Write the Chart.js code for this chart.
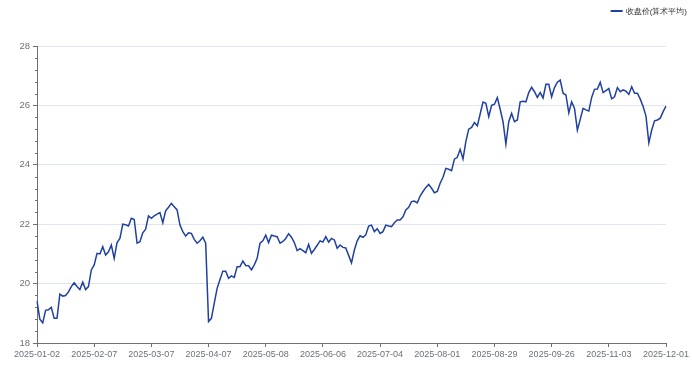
<!DOCTYPE html>
<html>
<head>
<meta charset="utf-8">
<script src="https://cdn.jsdelivr.net/npm/chart.js@4.4.1/dist/chart.umd.min.js"></script>
<style>
  html, body { margin: 0; padding: 0; background: #fff; }
  #wrap { width: 692px; height: 371px; }
</style>
</head>
<body>
<div id="wrap"><canvas id="chart"></canvas></div>
<script>
// trading days 2025-01-02 .. 2025-12-01 (weekdays minus exchange holidays)
const startDate = '2025-01-02';
const endDate = '2025-12-01';
const holidays = [
  '2025-01-01', '2025-01-28', '2025-01-29', '2025-01-30', '2025-01-31', '2025-02-03', '2025-02-04',
  '2025-04-04', '2025-05-01', '2025-05-02', '2025-05-05', '2025-06-02',
  '2025-10-01', '2025-10-02', '2025-10-03', '2025-10-06', '2025-10-07', '2025-10-08'
];

const seriesName = '收盘价(算术平均)';
const closeAvg = [
  19.41, 18.80, 18.68, 19.10, 19.12, 19.20, 18.83, 18.83, 19.65, 19.58,
  19.60, 19.72, 19.90, 20.03, 19.90, 19.80, 20.05, 19.80, 19.90, 20.46,
  20.63, 21.02, 21.00, 21.24, 20.96, 21.07, 21.30, 20.85, 21.38, 21.52,
  22.00, 21.98, 21.94, 22.20, 22.16, 21.36, 21.41, 21.71, 21.83, 22.28,
  22.20, 22.28, 22.34, 22.39, 22.05, 22.45, 22.57, 22.70, 22.59, 22.48,
  21.97, 21.75, 21.60, 21.71, 21.69, 21.49, 21.36, 21.44, 21.56, 21.36,
  18.72, 18.83, 19.34, 19.84, 20.14, 20.42, 20.42, 20.18, 20.26, 20.21,
  20.57, 20.57, 20.76, 20.61, 20.60, 20.46, 20.63, 20.85, 21.36, 21.44,
  21.63, 21.38, 21.63, 21.60, 21.58, 21.36, 21.42, 21.52, 21.68, 21.56,
  21.38, 21.11, 21.18, 21.11, 21.04, 21.32, 21.02, 21.15, 21.29, 21.44,
  21.40, 21.58, 21.40, 21.52, 21.47, 21.19, 21.30, 21.22, 21.20, 20.95,
  20.70, 21.13, 21.44, 21.61, 21.56, 21.64, 21.94, 21.97, 21.75, 21.85,
  21.69, 21.75, 21.97, 21.94, 21.92, 22.05, 22.14, 22.14, 22.25, 22.48,
  22.57, 22.76, 22.78, 22.72, 22.95, 23.10, 23.24, 23.34, 23.21, 23.06,
  23.10, 23.38, 23.58, 23.88, 23.85, 23.80, 24.19, 24.25, 24.52, 24.20,
  24.78, 25.20, 25.26, 25.42, 25.31, 25.71, 26.11, 26.07, 25.62, 26.00,
  26.04, 26.26, 25.87, 25.45, 24.70, 25.45, 25.73, 25.45, 25.51, 26.12,
  26.14, 26.12, 26.43, 26.61, 26.46, 26.27, 26.43, 26.25, 26.71, 26.71,
  26.29, 26.60, 26.78, 26.85, 26.41, 26.35, 25.75, 26.12, 25.90, 25.17,
  25.53, 25.90, 25.85, 25.81, 26.27, 26.54, 26.55, 26.78, 26.43, 26.50,
  26.57, 26.22, 26.29, 26.60, 26.46, 26.52, 26.48, 26.37, 26.63, 26.41,
  26.41, 26.21, 25.96, 25.64, 24.74, 25.17, 25.48, 25.51, 25.57, 25.79,
  25.98
];

const yMin = 18;
const yMax = 28;
const yStep = 2;
const labelEvery = 20;

const lineColor = '#2141a0';
const axisColor = '#6e7079';
const gridColor = '#e0e6f1';
const fontFamily = "'Liberation Sans', Arial, sans-serif";

function tradingDays(from, to, skip) {
  const out = [];
  const d = new Date(from + 'T00:00:00Z');
  const end = new Date(to + 'T00:00:00Z');
  while (d <= end) {
    const s = d.toISOString().slice(0, 10);
    const wd = d.getUTCDay();
    if (wd !== 0 && wd !== 6 && !skip.includes(s)) out.push(s);
    d.setUTCDate(d.getUTCDate() + 1);
  }
  return out;
}

const dates = tradingDays(startDate, endDate, holidays);

// small ticks between the labelled ones on the y axis
const minorTicks = {
  id: 'minorTicks',
  afterDraw(chart) {
    const { ctx } = chart;
    const y = chart.scales.y;
    ctx.save();
    ctx.strokeStyle = axisColor;
    ctx.lineWidth = 1;
    for (let v = yMin; v <= yMax + 1e-6; v += yStep / 5) {
      const major = Math.abs(v / yStep - Math.round(v / yStep)) < 1e-6;
      if (major) continue;
      const py = Math.round(y.getPixelForValue(v)) + 0.5;
      ctx.beginPath();
      ctx.moveTo(y.right - 2, py);
      ctx.lineTo(y.right, py);
      ctx.stroke();
    }
    ctx.restore();
  }
};

// legend in the top right corner
const cornerLegend = {
  id: 'cornerLegend',
  afterDraw(chart) {
    const { ctx } = chart;
    ctx.save();
    ctx.font = '8px ' + fontFamily;
    const w = ctx.measureText(seriesName).width;
    const tx = chart.width - 5 - w;
    ctx.strokeStyle = lineColor;
    ctx.lineWidth = 2;
    ctx.beginPath();
    ctx.moveTo(tx - 15, 11);
    ctx.lineTo(tx - 3, 11);
    ctx.stroke();
    ctx.fillStyle = '#333';
    ctx.textBaseline = 'middle';
    ctx.fillText(seriesName, tx, 11.5);
    ctx.restore();
  }
};

new Chart(document.getElementById('chart'), {
  type: 'line',
  data: {
    labels: dates,
    datasets: [{
      label: seriesName,
      data: closeAvg,
      borderColor: lineColor,
      backgroundColor: lineColor,
      borderWidth: 1.5,
      pointRadius: 0,
      tension: 0,
      fill: false
    }]
  },
  options: {
    responsive: true,
    maintainAspectRatio: false,
    animation: false,
    events: [],
    layout: { padding: { top: 46, right: 26, bottom: 0, left: 0 } },
    plugins: { legend: { display: false }, tooltip: { enabled: false } },
    scales: {
      x: {
        offset: false,
        afterFit(scale) { scale.height = 28; },
        border: { display: true, color: axisColor },
        grid: {
          display: true, drawOnChartArea: false, drawTicks: true,
          tickLength: 4, tickColor: axisColor, offset: false
        },
        ticks: {
          autoSkip: false, maxRotation: 0, padding: 2,
          color: axisColor, font: { family: fontFamily, size: 9 },
          callback(val, i) { return i % labelEvery === 0 ? dates[i] : null; }
        }
      },
      y: {
        min: yMin,
        max: yMax,
        afterFit(scale) { scale.width = 37; },
        border: { display: true, color: axisColor },
        grid: { color: gridColor, tickLength: 4, tickColor: axisColor },
        ticks: {
          stepSize: yStep, padding: 3,
          color: axisColor, font: { family: fontFamily, size: 9.5 }
        }
      }
    }
  },
  plugins: [minorTicks, cornerLegend]
});
</script>
</body>
</html>
